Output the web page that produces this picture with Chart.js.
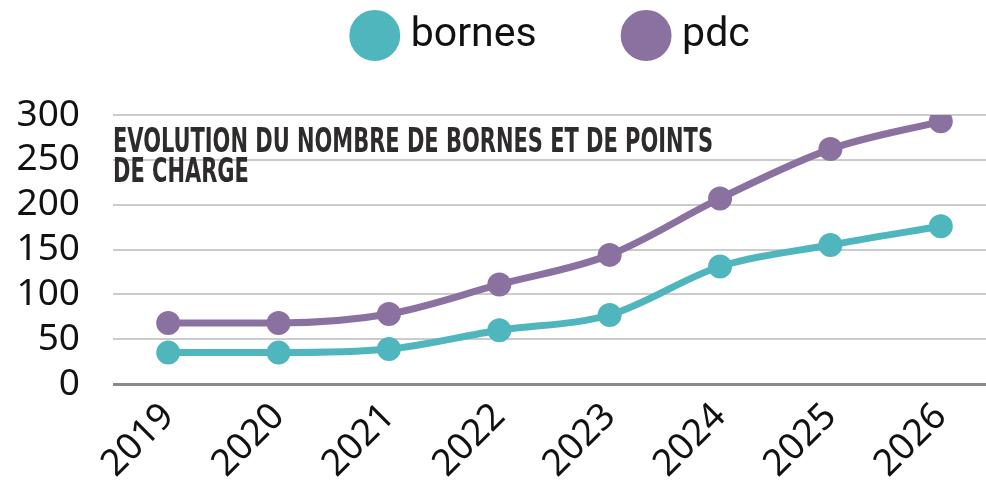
<!DOCTYPE html>
<html>
<head>
<meta charset="utf-8">
<script src="https://cdn.jsdelivr.net/npm/chart.js@4"></script>
<style>
  html, body { margin: 0; padding: 0; background: #fff; overflow: hidden; }
  #wrap { width: 996px; height: 498px; }
</style>
</head>
<body>
<div id="wrap"><canvas id="linechart"></canvas></div>
<script>
const years = ['2019', '2020', '2021', '2022', '2023', '2024', '2025', '2026'];
const bornes = [35, 35, 39, 60, 77, 131, 155, 176];
const pdc = [68, 68, 78, 111, 144, 207, 262, 293];
const yTicks = [0, 50, 100, 150, 200, 250, 300];
const titleLines = ['EVOLUTION DU NOMBRE DE BORNES ET DE POINTS', 'DE CHARGE'];

// title drawn inside the plot, top left
const innerTitle = {
  id: 'innerTitle',
  beforeDatasetsDraw(chart) {
    const ctx = chart.ctx;
    const left = chart.chartArea.left;
    ctx.save();
    ctx.font = 'bold 34px "DejaVu Sans Condensed"';
    ctx.fillStyle = '#2e2b2b';
    ctx.textBaseline = 'alphabetic';
    const w1 = ctx.measureText(titleLines[0]).width;
    const sx = 600 / w1;
    ctx.translate(left, 0);
    ctx.scale(sx, 1);
    ctx.fillText(titleLines[0], 0, 152);
    ctx.fillText(titleLines[1], 0, 182);
    ctx.restore();
  }
};

// tune the space under the legend so the plot starts lower
const legendGap = {
  id: 'legendGap',
  beforeInit(chart) {
    const fit = chart.legend.fit;
    chart.legend.fit = function () {
      fit.bind(chart.legend)();
      this.height += 49;
    };
  }
};

const ctx = document.getElementById('linechart').getContext('2d');

const chart = new Chart(ctx, {
  type: 'line',
  data: {
    labels: years,
    datasets: [{
      label: 'bornes',
      data: bornes,
      borderColor: '#50b6bd',
      backgroundColor: '#50b6bd',
      borderWidth: 7,
      pointRadius: 8.5,
      pointHoverRadius: 8.5,
      tension: 0.4,
      cubicInterpolationMode: 'monotone'
    }, {
      label: 'pdc',
      data: pdc,
      borderColor: '#8b71a0',
      backgroundColor: '#8b71a0',
      borderWidth: 7,
      pointRadius: 8.5,
      pointHoverRadius: 8.5,
      tension: 0.4,
      cubicInterpolationMode: 'monotone'
    }]
  },
  options: {
    responsive: true,
    maintainAspectRatio: false,
    animation: false,
    layout: { autoPadding: false, padding: { left: 0, right: 0, top: -79, bottom: 0 } },
    plugins: {
      tooltip: { enabled: false },
      legend: {
        position: 'top',
        fullSize: false,
        labels: {
          usePointStyle: true,
          pointStyle: 'circle',
          boxWidth: 31,
          boxHeight: 31,
          padding: 94,
          color: '#111',
          font: { family: 'Roboto', size: 41 }
        }
      }
    },
    scales: {
      x: {
        offset: true,
        grid: { display: false },
        border: { display: false },
        ticks: {
          autoSkip: false,
          maxRotation: 45,
          minRotation: 45,
          color: '#111',
          font: { family: 'Noto Sans', size: 37 }
        },
        afterFit(scale) {
          scale.height = 114;
          scale.paddingRight = 0;
          scale.paddingLeft = 0;
        }
      },
      y: {
        min: 0,
        max: 300,
        afterBuildTicks(scale) { scale.ticks = yTicks.map(v => ({ value: v })); },
        grid: {
          color: ctx => ctx.tick.value === 0 ? '#8a8a8a' : '#cccccc',
          lineWidth: ctx => ctx.tick.value === 0 ? 3 : 2,
          drawTicks: false
        },
        border: { display: false },
        ticks: {
          autoSkip: false,
          padding: 33,
          color: '#111',
          font: { family: 'Noto Sans', size: 37 }
        },
        afterFit(scale) { scale.width = 113; }
      }
    }
  },
  plugins: [innerTitle, legendGap]
});
</script>
</body>
</html>
